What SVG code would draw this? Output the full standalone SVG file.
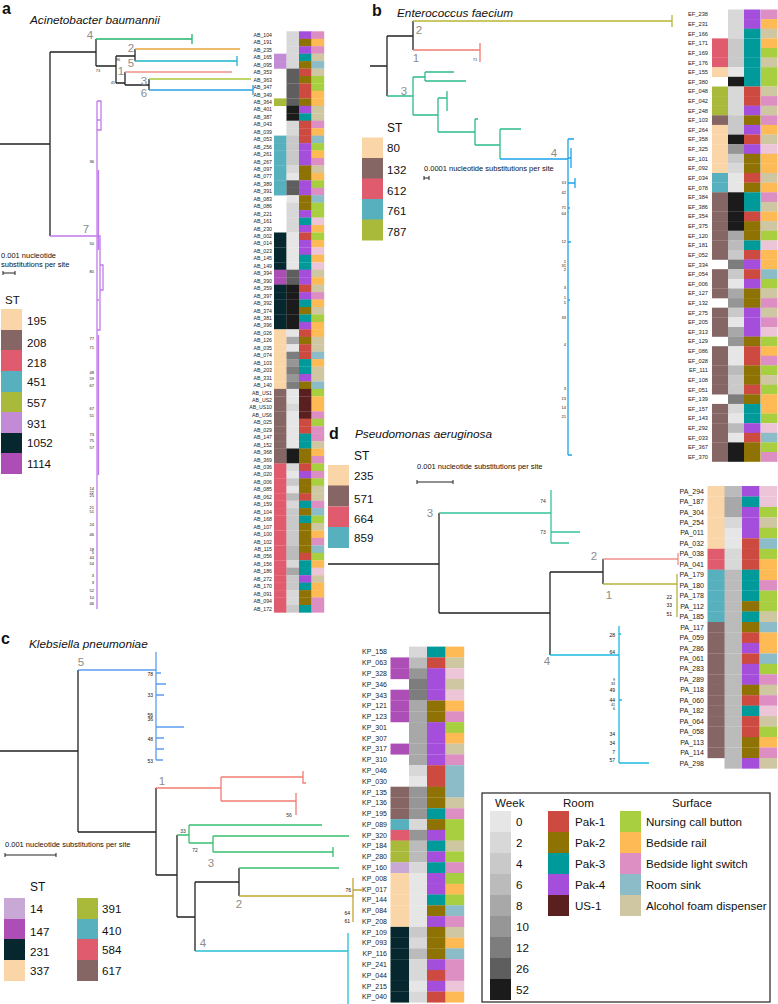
<svg xmlns="http://www.w3.org/2000/svg" width="778" height="1004" viewBox="0 0 778 1004">
<style>
text{font-family:"Liberation Sans",Arial,sans-serif;fill:#111}
.p{font-size:16px;font-weight:bold}
.t{font-size:11.8px;font-style:italic}
.cl{font-size:11.5px;fill:#8c8c8c;text-anchor:middle}
.bs{font-size:4px;fill:#333;text-anchor:end}
.bm{font-size:5px;fill:#333;text-anchor:middle}
.be{font-size:5px;fill:#333;text-anchor:end}
.sc{font-size:7.5px}
.lg{font-size:11.6px}
.la{font-size:5.2px;text-anchor:end;fill:#222}
.lb{font-size:5.7px;text-anchor:end;fill:#222}
.ld{font-size:7px;text-anchor:end;fill:#222}
.tr path{fill:none;stroke-width:1.3}
.k{stroke:#222}
.ha rect{width:12.7px;height:7.65px}
.hb rect{width:16.5px;height:9.8px}
.hd rect{width:17.7px;height:10.65px}
.hc rect{width:18.7px;height:10.95px}
.sw rect{width:21px;height:21px}
.pe{fill:#f9d5a7}.br{fill:#866565}.rd{fill:#e15b6e}.tl{fill:#57b0bd}.ol{fill:#a9b93a}.lv{fill:#c38bd6}.dk{fill:#05272d}.mg{fill:#ad4eb6}.lp{fill:#c8a9d5}
.w0{fill:#e6e6e6}.w2{fill:#d8d8d8}.w4{fill:#c9c9c9}.w6{fill:#bbbbbb}.w8{fill:#a8a8a8}.w10{fill:#969696}.w12{fill:#7d7d7d}.w26{fill:#5e5e5e}.w52{fill:#1b1b1b}
.r1{fill:#cd4a41}.r2{fill:#8e7304}.r3{fill:#009a9a}.r4{fill:#a64edc}.r5{fill:#5a1f1f}
.s1{fill:#a7cf40}.s2{fill:#fdba55}.s3{fill:#dd8ec3}.s4{fill:#8bbcc8}.s5{fill:#cfc6a2}.s6{fill:#ecc6d8}
</style>
<rect width="778" height="1004" fill="#fff"/>

<!-- ===== Panel a ===== -->
<g id="panel-a-title"><text class="p" x="2" y="14">a</text><text class="t" x="30" y="24">Acinetobacter baumannii</text></g>
<g id="connectors-a" class="tr">
<path class="k" stroke-width="1.5" d="M0,144 H50 M50,52 V236 M50,52 H96 M96,39 V66 M96,66 H116 M116,56 V83 M116,56 H135 M135,49 V61 M116,83 H125 M125,72 V85 M125,85 H149 M149,79 V90"/>
<path stroke="#25b46e" d="M96,39 H192 M192,34 V44"/>
<path stroke="#e6a53a" d="M135,49 H240"/>
<path stroke="#1fb5c9" d="M135,61 H237 M237,56 V66"/>
<path stroke="#f0908a" d="M125,72 H232"/>
<path stroke="#a8c93a" d="M149,79 H251"/>
<path stroke="#2aa0e2" d="M149,90 H253 M253,85 V95"/>
<path stroke="#c07bea" d="M50,236 H97 M97,101 V609 M97,101 H101 V130 H97 M98.5,170 V250 M97,236 H100 V330 H97 M100,265 H103 V290 H100 M98.5,335 V475 M97,120 H100 M97,300 H99"/>
</g>
<g id="clade-labels-a">
<text class="cl" x="90" y="39">4</text><text class="cl" x="131" y="52">2</text><text class="cl" x="131" y="67">5</text>
<text class="cl" x="121" y="75">1</text><text class="cl" x="144" y="85">3</text><text class="cl" x="144" y="97">6</text>
<text class="cl" x="86" y="233">7</text>
<text class="bm" x="118" y="61" style="font-size:4px">86</text><text class="bm" x="98" y="72" style="font-size:4px">73</text><text class="bm" x="113" y="84" style="font-size:4px">45</text>
</g>
<g id="bootstrap-a" class="bs">
<text x="94" y="163">36</text><text x="94" y="245">50</text><text x="94" y="273">80</text><text x="94" y="340">77</text><text x="94" y="349">71</text>
<text x="94" y="374">48</text><text x="94" y="380">59</text><text x="94" y="387">67</text><text x="94" y="410">67</text><text x="94" y="417">51</text>
<text x="94" y="436">73</text><text x="94" y="442">75</text><text x="94" y="449">57</text><text x="94" y="490">14</text><text x="94" y="493.5">22</text><text x="94" y="497">25</text>
<text x="94" y="509">21</text><text x="94" y="513">51</text><text x="94" y="526">24</text><text x="94" y="536">46</text><text x="94" y="551">18</text><text x="94" y="554">5</text>
<text x="94" y="559">44</text><text x="94" y="565">54</text><text x="94" y="577">3</text><text x="94" y="584">3</text><text x="94" y="592">52</text><text x="94" y="599">10</text><text x="94" y="605">46</text>
</g>
<g id="scale-a"><text class="sc" x="1" y="258">0.001 nucleotide</text><text class="sc" x="1" y="267">substitutions per site</text>
<path d="M3,273 H15 M3,271 V275 M15,271 V275" stroke="#222" stroke-width="1"/></g>
<g id="st-legend-a" class="sw">
<text x="5" y="304" style="font-size:11.5px">ST</text>
<rect x="1" y="309" class="pe"/><rect x="1" y="330" class="br"/><rect x="1" y="350" class="rd"/><rect x="1" y="371" class="tl"/><rect x="1" y="392" class="ol"/><rect x="1" y="412" class="lv"/><rect x="1" y="433" class="dk"/><rect x="1" y="453" class="mg"/>
<text class="lg" x="27" y="325">195</text><text class="lg" x="27" y="347">208</text><text class="lg" x="27" y="367">218</text><text class="lg" x="27" y="386">451</text><text class="lg" x="27" y="407">557</text><text class="lg" x="27" y="428">931</text><text class="lg" x="27" y="447">1052</text><text class="lg" x="27" y="468">1114</text>
</g>
<g id="labels-a"><text class="la" y="36.9"><tspan x="272">AB_104</tspan><tspan x="272" dy="7.45">AB_191</tspan><tspan x="272" dy="7.45">AB_235</tspan><tspan x="272" dy="7.45">AB_165</tspan><tspan x="272" dy="7.45">AB_095</tspan><tspan x="272" dy="7.45">AB_353</tspan><tspan x="272" dy="7.45">AB_363</tspan><tspan x="272" dy="7.45">AB_347</tspan><tspan x="272" dy="7.45">AB_349</tspan><tspan x="272" dy="7.45">AB_364</tspan><tspan x="272" dy="7.45">AB_401</tspan><tspan x="272" dy="7.45">AB_387</tspan><tspan x="272" dy="7.45">AB_043</tspan><tspan x="272" dy="7.45">AB_039</tspan><tspan x="272" dy="7.45">AB_053</tspan><tspan x="272" dy="7.45">AB_256</tspan><tspan x="272" dy="7.45">AB_261</tspan><tspan x="272" dy="7.45">AB_267</tspan><tspan x="272" dy="7.45">AB_097</tspan><tspan x="272" dy="7.45">AB_077</tspan><tspan x="272" dy="7.45">AB_389</tspan><tspan x="272" dy="7.45">AB_391</tspan><tspan x="272" dy="7.45">AB_083</tspan><tspan x="272" dy="7.45">AB_086</tspan><tspan x="272" dy="7.45">AB_221</tspan><tspan x="272" dy="7.45">AB_161</tspan><tspan x="272" dy="7.45">AB_230</tspan><tspan x="272" dy="7.45">AB_002</tspan><tspan x="272" dy="7.45">AB_014</tspan><tspan x="272" dy="7.45">AB_023</tspan><tspan x="272" dy="7.45">AB_145</tspan><tspan x="272" dy="7.45">AB_149</tspan><tspan x="272" dy="7.45">AB_394</tspan><tspan x="272" dy="7.45">AB_390</tspan><tspan x="272" dy="7.45">AB_359</tspan><tspan x="272" dy="7.45">AB_397</tspan><tspan x="272" dy="7.45">AB_392</tspan><tspan x="272" dy="7.45">AB_374</tspan><tspan x="272" dy="7.45">AB_381</tspan><tspan x="272" dy="7.45">AB_396</tspan><tspan x="272" dy="7.45">AB_026</tspan><tspan x="272" dy="7.45">AB_126</tspan><tspan x="272" dy="7.45">AB_035</tspan><tspan x="272" dy="7.45">AB_074</tspan><tspan x="272" dy="7.45">AB_103</tspan><tspan x="272" dy="7.45">AB_203</tspan><tspan x="272" dy="7.45">AB_331</tspan><tspan x="272" dy="7.45">AB_140</tspan><tspan x="272" dy="7.45">AB_US1</tspan><tspan x="272" dy="7.45">AB_US2</tspan><tspan x="272" dy="7.45">AB_US10</tspan><tspan x="272" dy="7.45">AB_US6</tspan><tspan x="272" dy="7.45">AB_025</tspan><tspan x="272" dy="7.45">AB_029</tspan><tspan x="272" dy="7.45">AB_147</tspan><tspan x="272" dy="7.45">AB_152</tspan><tspan x="272" dy="7.45">AB_368</tspan><tspan x="272" dy="7.45">AB_369</tspan><tspan x="272" dy="7.45">AB_036</tspan><tspan x="272" dy="7.45">AB_020</tspan><tspan x="272" dy="7.45">AB_006</tspan><tspan x="272" dy="7.45">AB_085</tspan><tspan x="272" dy="7.45">AB_062</tspan><tspan x="272" dy="7.45">AB_159</tspan><tspan x="272" dy="7.45">AB_104</tspan><tspan x="272" dy="7.45">AB_168</tspan><tspan x="272" dy="7.45">AB_107</tspan><tspan x="272" dy="7.45">AB_100</tspan><tspan x="272" dy="7.45">AB_102</tspan><tspan x="272" dy="7.45">AB_115</tspan><tspan x="272" dy="7.45">AB_056</tspan><tspan x="272" dy="7.45">AB_156</tspan><tspan x="272" dy="7.45">AB_186</tspan><tspan x="272" dy="7.45">AB_272</tspan><tspan x="272" dy="7.45">AB_170</tspan><tspan x="272" dy="7.45">AB_091</tspan><tspan x="272" dy="7.45">AB_094</tspan><tspan x="272" dy="7.45">AB_172</tspan></text></g>
<g id="heatmap-a" class="ha">
<g transform="translate(0,31.3)"><rect x="286.5" class="w2"/><rect x="299" class="r4"/><rect x="311.5" class="s3"/></g>
<g transform="translate(0,38.8)"><rect x="286.5" class="w2"/><rect x="299" class="r2"/><rect x="311.5" class="s2"/></g>
<g transform="translate(0,46.2)"><rect x="286.5" class="w2"/><rect x="299" class="r4"/><rect x="311.5" class="s3"/></g>
<g transform="translate(0,53.7)"><rect x="274" class="lv"/><rect x="286.5" class="w2"/><rect x="299" class="r3"/><rect x="311.5" class="s5"/></g>
<g transform="translate(0,61.1)"><rect x="274" class="lv"/><rect x="286.5" class="w2"/><rect x="299" class="r2"/><rect x="311.5" class="s4"/></g>
<g transform="translate(0,68.6)"><rect x="286.5" class="w26"/><rect x="299" class="r1"/><rect x="311.5" class="s5"/></g>
<g transform="translate(0,76.0)"><rect x="286.5" class="w26"/><rect x="299" class="r2"/><rect x="311.5" class="s1"/></g>
<g transform="translate(0,83.5)"><rect x="286.5" class="w26"/><rect x="299" class="r1"/><rect x="311.5" class="s1"/></g>
<g transform="translate(0,90.9)"><rect x="286.5" class="w26"/><rect x="299" class="r1"/><rect x="311.5" class="s2"/></g>
<g transform="translate(0,98.4)"><rect x="274" class="ol"/><rect x="286.5" class="w26"/><rect x="299" class="r2"/><rect x="311.5" class="s2"/></g>
<g transform="translate(0,105.8)"><rect x="286.5" class="w52"/><rect x="299" class="r4"/><rect x="311.5" class="s5"/></g>
<g transform="translate(0,113.3)"><rect x="286.5" class="w52"/><rect x="299" class="r3"/><rect x="311.5" class="s5"/></g>
<g transform="translate(0,120.7)"><rect x="286.5" class="w2"/><rect x="299" class="r1"/><rect x="311.5" class="s3"/></g>
<g transform="translate(0,128.2)"><rect x="286.5" class="w2"/><rect x="299" class="r1"/><rect x="311.5" class="s2"/></g>
<g transform="translate(0,135.6)"><rect x="274" class="tl"/><rect x="286.5" class="w4"/><rect x="299" class="r1"/><rect x="311.5" class="s4"/></g>
<g transform="translate(0,143.1)"><rect x="274" class="tl"/><rect x="286.5" class="w4"/><rect x="299" class="r4"/><rect x="311.5" class="s1"/></g>
<g transform="translate(0,150.5)"><rect x="274" class="tl"/><rect x="286.5" class="w4"/><rect x="299" class="r4"/><rect x="311.5" class="s2"/></g>
<g transform="translate(0,158.0)"><rect x="274" class="tl"/><rect x="286.5" class="w4"/><rect x="299" class="r4"/><rect x="311.5" class="s3"/></g>
<g transform="translate(0,165.4)"><rect x="274" class="tl"/><rect x="286.5" class="w2"/><rect x="299" class="r2"/><rect x="311.5" class="s5"/></g>
<g transform="translate(0,172.9)"><rect x="274" class="tl"/><rect x="286.5" class="w0"/><rect x="299" class="r2"/><rect x="311.5" class="s2"/></g>
<g transform="translate(0,180.3)"><rect x="274" class="tl"/><rect x="286.5" class="w26"/><rect x="299" class="r4"/><rect x="311.5" class="s1"/></g>
<g transform="translate(0,187.8)"><rect x="274" class="tl"/><rect x="286.5" class="w26"/><rect x="299" class="r4"/><rect x="311.5" class="s3"/></g>
<g transform="translate(0,195.2)"><rect x="286.5" class="w0"/><rect x="299" class="r2"/><rect x="311.5" class="s4"/></g>
<g transform="translate(0,202.7)"><rect x="286.5" class="w2"/><rect x="299" class="r2"/><rect x="311.5" class="s1"/></g>
<g transform="translate(0,210.1)"><rect x="286.5" class="w2"/><rect x="299" class="r4"/><rect x="311.5" class="s1"/></g>
<g transform="translate(0,217.6)"><rect x="286.5" class="w2"/><rect x="299" class="r3"/><rect x="311.5" class="s6"/></g>
<g transform="translate(0,225.0)"><rect x="286.5" class="w2"/><rect x="299" class="r4"/><rect x="311.5" class="s2"/></g>
<g transform="translate(0,232.5)"><rect x="274" class="dk"/><rect x="286.5" class="w0"/><rect x="299" class="r1"/><rect x="311.5" class="s1"/></g>
<g transform="translate(0,239.9)"><rect x="274" class="dk"/><rect x="286.5" class="w0"/><rect x="299" class="r4"/><rect x="311.5" class="s2"/></g>
<g transform="translate(0,247.4)"><rect x="274" class="dk"/><rect x="286.5" class="w0"/><rect x="299" class="r4"/><rect x="311.5" class="s6"/></g>
<g transform="translate(0,254.8)"><rect x="274" class="dk"/><rect x="286.5" class="w0"/><rect x="299" class="r3"/><rect x="311.5" class="s2"/></g>
<g transform="translate(0,262.3)"><rect x="274" class="dk"/><rect x="286.5" class="w0"/><rect x="299" class="r3"/><rect x="311.5" class="s6"/></g>
<g transform="translate(0,269.7)"><rect x="274" class="mg"/><rect x="286.5" class="w26"/><rect x="299" class="r4"/><rect x="311.5" class="s5"/></g>
<g transform="translate(0,277.2)"><rect x="274" class="mg"/><rect x="286.5" class="w26"/><rect x="299" class="r4"/><rect x="311.5" class="s2"/></g>
<g transform="translate(0,284.6)"><rect x="274" class="dk"/><rect x="286.5" class="w52"/><rect x="299" class="r1"/><rect x="311.5" class="s5"/></g>
<g transform="translate(0,292.1)"><rect x="274" class="dk"/><rect x="286.5" class="w52"/><rect x="299" class="r4"/><rect x="311.5" class="s3"/></g>
<g transform="translate(0,299.5)"><rect x="274" class="dk"/><rect x="286.5" class="w52"/><rect x="299" class="r3"/><rect x="311.5" class="s2"/></g>
<g transform="translate(0,307.0)"><rect x="274" class="dk"/><rect x="286.5" class="w52"/><rect x="299" class="r2"/><rect x="311.5" class="s5"/></g>
<g transform="translate(0,314.4)"><rect x="274" class="dk"/><rect x="286.5" class="w52"/><rect x="299" class="r3"/><rect x="311.5" class="s1"/></g>
<g transform="translate(0,321.9)"><rect x="274" class="dk"/><rect x="286.5" class="w52"/><rect x="299" class="r4"/><rect x="311.5" class="s2"/></g>
<g transform="translate(0,329.3)"><rect x="274" class="pe"/><rect x="286.5" class="w0"/><rect x="299" class="r1"/><rect x="311.5" class="s2"/></g>
<g transform="translate(0,336.8)"><rect x="274" class="pe"/><rect x="286.5" class="w8"/><rect x="299" class="r2"/><rect x="311.5" class="s5"/></g>
<g transform="translate(0,344.2)"><rect x="274" class="pe"/><rect x="286.5" class="w0"/><rect x="299" class="r1"/><rect x="311.5" class="s5"/></g>
<g transform="translate(0,351.7)"><rect x="274" class="pe"/><rect x="286.5" class="w12"/><rect x="299" class="r1"/><rect x="311.5" class="s4"/></g>
<g transform="translate(0,359.1)"><rect x="274" class="pe"/><rect x="286.5" class="w10"/><rect x="299" class="r3"/><rect x="311.5" class="s2"/></g>
<g transform="translate(0,366.6)"><rect x="274" class="pe"/><rect x="286.5" class="w12"/><rect x="299" class="r3"/><rect x="311.5" class="s5"/></g>
<g transform="translate(0,374.0)"><rect x="274" class="pe"/><rect x="286.5" class="w10"/><rect x="299" class="r4"/><rect x="311.5" class="s5"/></g>
<g transform="translate(0,381.5)"><rect x="274" class="pe"/><rect x="286.5" class="w12"/><rect x="299" class="r2"/><rect x="311.5" class="s4"/></g>
<g transform="translate(0,388.9)"><rect x="274" class="br"/><rect x="286.5" class="w0"/><rect x="299" class="r5"/><rect x="311.5" class="s1"/></g>
<g transform="translate(0,396.4)"><rect x="274" class="br"/><rect x="286.5" class="w0"/><rect x="299" class="r5"/><rect x="311.5" class="s2"/></g>
<g transform="translate(0,403.8)"><rect x="274" class="br"/><rect x="286.5" class="w2"/><rect x="299" class="r5"/><rect x="311.5" class="s2"/></g>
<g transform="translate(0,411.3)"><rect x="274" class="br"/><rect x="286.5" class="w0"/><rect x="299" class="r5"/><rect x="311.5" class="s3"/></g>
<g transform="translate(0,418.7)"><rect x="274" class="br"/><rect x="286.5" class="w0"/><rect x="299" class="r1"/><rect x="311.5" class="s1"/></g>
<g transform="translate(0,426.2)"><rect x="274" class="br"/><rect x="286.5" class="w0"/><rect x="299" class="r1"/><rect x="311.5" class="s3"/></g>
<g transform="translate(0,433.6)"><rect x="274" class="br"/><rect x="286.5" class="w0"/><rect x="299" class="r3"/><rect x="311.5" class="s3"/></g>
<g transform="translate(0,441.1)"><rect x="274" class="br"/><rect x="286.5" class="w0"/><rect x="299" class="r3"/><rect x="311.5" class="s5"/></g>
<g transform="translate(0,448.5)"><rect x="274" class="br"/><rect x="286.5" class="w52"/><rect x="299" class="r2"/><rect x="311.5" class="s2"/></g>
<g transform="translate(0,456.0)"><rect x="274" class="br"/><rect x="286.5" class="w52"/><rect x="299" class="r2"/><rect x="311.5" class="s3"/></g>
<g transform="translate(0,463.4)"><rect x="274" class="rd"/><rect x="286.5" class="w2"/><rect x="299" class="r1"/><rect x="311.5" class="s1"/></g>
<g transform="translate(0,470.9)"><rect x="274" class="rd"/><rect x="286.5" class="w0"/><rect x="299" class="r4"/><rect x="311.5" class="s3"/></g>
<g transform="translate(0,478.3)"><rect x="274" class="rd"/><rect x="286.5" class="w4"/><rect x="299" class="r2"/><rect x="311.5" class="s1"/></g>
<g transform="translate(0,485.8)"><rect x="274" class="rd"/><rect x="286.5" class="w0"/><rect x="299" class="r2"/><rect x="311.5" class="s5"/></g>
<g transform="translate(0,493.2)"><rect x="274" class="rd"/><rect x="286.5" class="w6"/><rect x="299" class="r1"/><rect x="311.5" class="s5"/></g>
<g transform="translate(0,500.7)"><rect x="274" class="rd"/><rect x="286.5" class="w2"/><rect x="299" class="r3"/><rect x="311.5" class="s3"/></g>
<g transform="translate(0,508.1)"><rect x="274" class="rd"/><rect x="286.5" class="w4"/><rect x="299" class="r2"/><rect x="311.5" class="s4"/></g>
<g transform="translate(0,515.6)"><rect x="274" class="rd"/><rect x="286.5" class="w4"/><rect x="299" class="r3"/><rect x="311.5" class="s1"/></g>
<g transform="translate(0,523.0)"><rect x="274" class="rd"/><rect x="286.5" class="w4"/><rect x="299" class="r2"/><rect x="311.5" class="s5"/></g>
<g transform="translate(0,530.5)"><rect x="274" class="rd"/><rect x="286.5" class="w4"/><rect x="299" class="r2"/><rect x="311.5" class="s2"/></g>
<g transform="translate(0,537.9)"><rect x="274" class="rd"/><rect x="286.5" class="w4"/><rect x="299" class="r2"/><rect x="311.5" class="s3"/></g>
<g transform="translate(0,545.4)"><rect x="274" class="rd"/><rect x="286.5" class="w6"/><rect x="299" class="r2"/><rect x="311.5" class="s4"/></g>
<g transform="translate(0,552.8)"><rect x="274" class="rd"/><rect x="286.5" class="w6"/><rect x="299" class="r1"/><rect x="311.5" class="s1"/></g>
<g transform="translate(0,560.3)"><rect x="274" class="rd"/><rect x="286.5" class="w2"/><rect x="299" class="r3"/><rect x="311.5" class="s2"/></g>
<g transform="translate(0,567.7)"><rect x="274" class="rd"/><rect x="286.5" class="w8"/><rect x="299" class="r3"/><rect x="311.5" class="s6"/></g>
<g transform="translate(0,575.2)"><rect x="274" class="rd"/><rect x="286.5" class="w4"/><rect x="299" class="r4"/><rect x="311.5" class="s5"/></g>
<g transform="translate(0,582.6)"><rect x="274" class="rd"/><rect x="286.5" class="w4"/><rect x="299" class="r3"/><rect x="311.5" class="s2"/></g>
<g transform="translate(0,590.1)"><rect x="274" class="rd"/><rect x="286.5" class="w2"/><rect x="299" class="r2"/><rect x="311.5" class="s2"/></g>
<g transform="translate(0,597.5)"><rect x="274" class="rd"/><rect x="286.5" class="w2"/><rect x="299" class="r2"/><rect x="311.5" class="s3"/></g>
<g transform="translate(0,605.0)"><rect x="274" class="rd"/><rect x="286.5" class="w4"/><rect x="299" class="r3"/><rect x="311.5" class="s3"/></g>
</g>

<!-- ===== Panel b ===== -->
<g id="panel-b-title"><text class="p" x="372" y="16">b</text><text class="t" x="397" y="17">Enterococcus faecium</text></g>
<g id="connectors-b" class="tr">
<path class="k" d="M370,66 H387 M387,36 V96 M387,36 H413 M413,21 V50"/>
<path stroke="#b9b536" d="M413,21 H672 M672,15 V27"/>
<path stroke="#f27c72" d="M413,50 H480 M480,43 V62"/>
<path stroke="#2dbb8a" d="M387,96 H413 M413,77 V115 M413,77 H425 M425,72 V81 M425,72 H454 M425,81 H466 M413,115 H438 M438,98 V132 M438,98 H447 M447,91 V111 M438,132 H475 M475,119 V145 M475,119 H478 M475,145 H500 M500,129 V159 M500,129 H521"/>
<path stroke="#1ca2ea" d="M500,159 H568 M568,139 V455 M568,139 H574 M571,148 V168 M568,158 H571 M568,183 H575 M575,178 V188 M568,208 H570 M568,242 H571 M568,300 H570 M568,455 H572"/>
</g>
<g id="clade-labels-b">
<text class="cl" x="419" y="34">2</text><text class="cl" x="416" y="62">1</text><text class="cl" x="404" y="95">3</text><text class="cl" x="554" y="157">4</text>
<text class="bm" x="475" y="61" style="font-size:4px">71</text><text class="bm" x="564" y="184" style="font-size:4px">63</text>
</g>
<g id="bootstrap-b" class="bs">
<text x="566" y="194">42</text><text x="566" y="209">71</text><text x="566" y="215">64</text><text x="566" y="243">12</text><text x="566" y="263">1</text><text x="566" y="267">31</text><text x="566" y="271">2</text>
<text x="566" y="289">3</text><text x="566" y="299">1</text><text x="566" y="304">5</text><text x="566" y="319">33</text><text x="566" y="346">4</text><text x="566" y="390">3</text><text x="566" y="400">13</text><text x="566" y="409">14</text><text x="566" y="418">21</text>
</g>
<g id="scale-b"><text class="sc" x="424" y="170.5">0.0001 nucleotide substitutions per site</text>
<path d="M424,178 H429 M424,176 V180 M429,176 V180" stroke="#222" stroke-width="1"/></g>
<g id="st-legend-b" class="sw">
<text x="387" y="132" style="font-size:12px">ST</text>
<rect x="362" y="137.5" class="pe"/><rect x="362" y="158" class="br"/><rect x="362" y="178.5" class="rd"/><rect x="362" y="199" class="tl"/><rect x="362" y="219.5" class="ol"/>
<text class="lg" x="387" y="152">80</text><text class="lg" x="387" y="174">132</text><text class="lg" x="387" y="195">612</text><text class="lg" x="387" y="215">761</text><text class="lg" x="387" y="236">787</text>
</g>
<g id="labels-b"><text class="lb" y="16.4"><tspan x="708">EF_238</tspan><tspan x="708" dy="9.62">EF_231</tspan><tspan x="708" dy="9.62">EF_166</tspan><tspan x="708" dy="9.62">EF_171</tspan><tspan x="708" dy="9.62">EF_169</tspan><tspan x="708" dy="9.62">EF_176</tspan><tspan x="708" dy="9.62">EF_155</tspan><tspan x="708" dy="9.62">EF_380</tspan><tspan x="708" dy="9.62">EF_048</tspan><tspan x="708" dy="9.62">EF_042</tspan><tspan x="708" dy="9.62">EF_248</tspan><tspan x="708" dy="9.62">EF_103</tspan><tspan x="708" dy="9.62">EF_264</tspan><tspan x="708" dy="9.62">EF_358</tspan><tspan x="708" dy="9.62">EF_325</tspan><tspan x="708" dy="9.62">EF_101</tspan><tspan x="708" dy="9.62">EF_092</tspan><tspan x="708" dy="9.62">EF_034</tspan><tspan x="708" dy="9.62">EF_078</tspan><tspan x="708" dy="9.62">EF_384</tspan><tspan x="708" dy="9.62">EF_386</tspan><tspan x="708" dy="9.62">EF_354</tspan><tspan x="708" dy="9.62">EF_375</tspan><tspan x="708" dy="9.62">EF_120</tspan><tspan x="708" dy="9.62">EF_181</tspan><tspan x="708" dy="9.62">EF_052</tspan><tspan x="708" dy="9.62">EF_334</tspan><tspan x="708" dy="9.62">EF_054</tspan><tspan x="708" dy="9.62">EF_006</tspan><tspan x="708" dy="9.62">EF_127</tspan><tspan x="708" dy="9.62">EF_132</tspan><tspan x="708" dy="9.62">EF_275</tspan><tspan x="708" dy="9.62">EF_205</tspan><tspan x="708" dy="9.62">EF_313</tspan><tspan x="708" dy="9.62">EF_129</tspan><tspan x="708" dy="9.62">EF_086</tspan><tspan x="708" dy="9.62">EF_028</tspan><tspan x="708" dy="9.62">EF_111</tspan><tspan x="708" dy="9.62">EF_108</tspan><tspan x="708" dy="9.62">EF_051</tspan><tspan x="708" dy="9.62">EF_139</tspan><tspan x="708" dy="9.62">EF_157</tspan><tspan x="708" dy="9.62">EF_143</tspan><tspan x="708" dy="9.62">EF_292</tspan><tspan x="708" dy="9.62">EF_033</tspan><tspan x="708" dy="9.62">EF_367</tspan><tspan x="708" dy="9.62">EF_370</tspan></text></g>
<g id="heatmap-b" class="hb">
<g transform="translate(0,9.5)"><rect x="728" class="w2"/><rect x="744" class="r4"/><rect x="761" class="s3"/></g>
<g transform="translate(0,19.1)"><rect x="728" class="w2"/><rect x="744" class="r4"/><rect x="761" class="s2"/></g>
<g transform="translate(0,28.7)"><rect x="728" class="w2"/><rect x="744" class="r3"/><rect x="761" class="s5"/></g>
<g transform="translate(0,38.4)"><rect x="712" class="rd"/><rect x="728" class="w4"/><rect x="744" class="r3"/><rect x="761" class="s2"/></g>
<g transform="translate(0,48.0)"><rect x="712" class="rd"/><rect x="728" class="w4"/><rect x="744" class="r3"/><rect x="761" class="s1"/></g>
<g transform="translate(0,57.6)"><rect x="712" class="rd"/><rect x="728" class="w4"/><rect x="744" class="r3"/><rect x="761" class="s5"/></g>
<g transform="translate(0,67.2)"><rect x="712" class="pe"/><rect x="728" class="w0"/><rect x="744" class="r3"/><rect x="761" class="s1"/></g>
<g transform="translate(0,76.8)"><rect x="728" class="w52"/><rect x="744" class="r3"/><rect x="761" class="s1"/></g>
<g transform="translate(0,86.5)"><rect x="712" class="ol"/><rect x="728" class="w2"/><rect x="744" class="r1"/><rect x="761" class="s5"/></g>
<g transform="translate(0,96.1)"><rect x="712" class="ol"/><rect x="728" class="w2"/><rect x="744" class="r1"/><rect x="761" class="s3"/></g>
<g transform="translate(0,105.7)"><rect x="712" class="ol"/><rect x="728" class="w2"/><rect x="744" class="r4"/><rect x="761" class="s5"/></g>
<g transform="translate(0,115.3)"><rect x="712" class="br"/><rect x="728" class="w4"/><rect x="744" class="r2"/><rect x="761" class="s3"/></g>
<g transform="translate(0,124.9)"><rect x="712" class="pe"/><rect x="728" class="w4"/><rect x="744" class="r4"/><rect x="761" class="s2"/></g>
<g transform="translate(0,134.6)"><rect x="712" class="pe"/><rect x="728" class="w52"/><rect x="744" class="r1"/><rect x="761" class="s5"/></g>
<g transform="translate(0,144.2)"><rect x="712" class="pe"/><rect x="728" class="w10"/><rect x="744" class="r4"/><rect x="761" class="s6"/></g>
<g transform="translate(0,153.8)"><rect x="712" class="pe"/><rect x="728" class="w4"/><rect x="744" class="r2"/><rect x="761" class="s2"/></g>
<g transform="translate(0,163.4)"><rect x="712" class="pe"/><rect x="728" class="w2"/><rect x="744" class="r2"/><rect x="761" class="s2"/></g>
<g transform="translate(0,173.0)"><rect x="712" class="tl"/><rect x="728" class="w0"/><rect x="744" class="r1"/><rect x="761" class="s5"/></g>
<g transform="translate(0,182.7)"><rect x="712" class="tl"/><rect x="728" class="w0"/><rect x="744" class="r2"/><rect x="761" class="s2"/></g>
<g transform="translate(0,192.3)"><rect x="712" class="br"/><rect x="728" class="w52"/><rect x="744" class="r3"/><rect x="761" class="s3"/></g>
<g transform="translate(0,201.9)"><rect x="712" class="br"/><rect x="728" class="w52"/><rect x="744" class="r3"/><rect x="761" class="s5"/></g>
<g transform="translate(0,211.5)"><rect x="712" class="br"/><rect x="728" class="w52"/><rect x="744" class="r1"/><rect x="761" class="s2"/></g>
<g transform="translate(0,221.1)"><rect x="712" class="br"/><rect x="728" class="w52"/><rect x="744" class="r2"/><rect x="761" class="s5"/></g>
<g transform="translate(0,230.8)"><rect x="712" class="br"/><rect x="728" class="w8"/><rect x="744" class="r2"/><rect x="761" class="s1"/></g>
<g transform="translate(0,240.4)"><rect x="712" class="br"/><rect x="728" class="w6"/><rect x="744" class="r3"/><rect x="761" class="s6"/></g>
<g transform="translate(0,250.0)"><rect x="712" class="br"/><rect x="728" class="w4"/><rect x="744" class="r1"/><rect x="761" class="s2"/></g>
<g transform="translate(0,259.6)"><rect x="728" class="w12"/><rect x="744" class="r4"/><rect x="761" class="s2"/></g>
<g transform="translate(0,269.2)"><rect x="712" class="br"/><rect x="728" class="w4"/><rect x="744" class="r1"/><rect x="761" class="s4"/></g>
<g transform="translate(0,278.9)"><rect x="712" class="br"/><rect x="728" class="w0"/><rect x="744" class="r4"/><rect x="761" class="s1"/></g>
<g transform="translate(0,288.5)"><rect x="712" class="br"/><rect x="728" class="w8"/><rect x="744" class="r2"/><rect x="761" class="s5"/></g>
<g transform="translate(0,298.1)"><rect x="728" class="w10"/><rect x="744" class="r2"/><rect x="761" class="s3"/></g>
<g transform="translate(0,307.7)"><rect x="712" class="br"/><rect x="728" class="w4"/><rect x="744" class="r4"/><rect x="761" class="s5"/></g>
<g transform="translate(0,317.3)"><rect x="712" class="br"/><rect x="728" class="w0"/><rect x="744" class="r4"/><rect x="761" class="s3"/></g>
<g transform="translate(0,327.0)"><rect x="712" class="br"/><rect x="728" class="w8"/><rect x="744" class="r4"/><rect x="761" class="s6"/></g>
<g transform="translate(0,336.6)"><rect x="728" class="w10"/><rect x="744" class="r2"/><rect x="761" class="s1"/></g>
<g transform="translate(0,346.2)"><rect x="712" class="br"/><rect x="728" class="w0"/><rect x="744" class="r1"/><rect x="761" class="s2"/></g>
<g transform="translate(0,355.8)"><rect x="712" class="br"/><rect x="728" class="w0"/><rect x="744" class="r1"/><rect x="761" class="s3"/></g>
<g transform="translate(0,365.4)"><rect x="712" class="br"/><rect x="728" class="w6"/><rect x="744" class="r2"/><rect x="761" class="s1"/></g>
<g transform="translate(0,375.1)"><rect x="712" class="br"/><rect x="728" class="w4"/><rect x="744" class="r2"/><rect x="761" class="s5"/></g>
<g transform="translate(0,384.7)"><rect x="712" class="br"/><rect x="728" class="w4"/><rect x="744" class="r1"/><rect x="761" class="s1"/></g>
<g transform="translate(0,394.3)"><rect x="728" class="w12"/><rect x="744" class="r2"/><rect x="761" class="s2"/></g>
<g transform="translate(0,403.9)"><rect x="712" class="br"/><rect x="728" class="w2"/><rect x="744" class="r3"/><rect x="761" class="s2"/></g>
<g transform="translate(0,413.5)"><rect x="712" class="br"/><rect x="728" class="w0"/><rect x="744" class="r3"/><rect x="761" class="s1"/></g>
<g transform="translate(0,423.2)"><rect x="712" class="br"/><rect x="728" class="w6"/><rect x="744" class="r4"/><rect x="761" class="s6"/></g>
<g transform="translate(0,432.8)"><rect x="712" class="br"/><rect x="728" class="w0"/><rect x="744" class="r1"/><rect x="761" class="s4"/></g>
<g transform="translate(0,442.4)"><rect x="712" class="br"/><rect x="728" class="w52"/><rect x="744" class="r2"/><rect x="761" class="s1"/></g>
<g transform="translate(0,452.0)"><rect x="712" class="br"/><rect x="728" class="w52"/><rect x="744" class="r2"/><rect x="761" class="s3"/></g>
</g>

<!-- ===== Panel d ===== -->
<g id="panel-d-title"><text class="p" x="329" y="439">d</text><text class="t" x="355" y="438">Pseudomonas aeruginosa</text></g>
<g id="st-legend-d" class="sw">
<text x="354" y="460" style="font-size:12px">ST</text>
<rect x="328" y="465" class="pe"/><rect x="328" y="485.5" class="br"/><rect x="328" y="506.5" class="rd"/><rect x="328" y="527" class="tl"/>
<text class="lg" x="354" y="480">235</text><text class="lg" x="354" y="503">571</text><text class="lg" x="354" y="523">664</text><text class="lg" x="354" y="542">859</text>
</g>
<g id="scale-d"><text class="sc" x="417" y="468.5">0.001 nucleotide substitutions per site</text>
<path d="M417,482 H453 M417,480 V484 M453,480 V484" stroke="#222" stroke-width="1"/></g>
<g id="connectors-d" class="tr">
<path class="k" d="M328,564 H439 M439,513 V613 M439,613 H550 M550,572 V655 M550,572 H603 M603,559 V584"/>
<path stroke="#36c39a" d="M439,513 H551 M551,490 V543 M551,532 H580 M551,543 H569"/>
<path stroke="#f0908a" d="M603,559 H678 M678,553 V565"/>
<path stroke="#b7b23d" d="M603,584 H677 M677,574 V617"/>
<path stroke="#1bbbe2" d="M550,655 H619 M619,626 V763 M619,763 H649 M619,700 H622 M619,634 H621"/>
</g>
<g id="clade-labels-d">
<text class="cl" x="430" y="517">3</text><text class="cl" x="594" y="560">2</text><text class="cl" x="609" y="599">1</text><text class="cl" x="547" y="665">4</text>
<text class="bm" x="543" y="503">74</text><text class="bm" x="543" y="534">73</text>
</g>
<g id="bootstrap-d" class="be">
<text x="672" y="599">22</text><text x="672" y="607">33</text><text x="672" y="616">51</text>
<text x="615" y="637">28</text><text x="615" y="654">64</text>
<text x="615" y="681" style="font-size:3.6px">9</text><text x="615" y="684.5" style="font-size:3.6px">33</text><text x="615" y="691.5">49</text>
<text x="615" y="702">44</text><text x="615" y="706" style="font-size:3.6px">41</text><text x="615" y="709.5" style="font-size:3.6px">6</text>
<text x="615" y="736">34</text><text x="615" y="745">34</text><text x="615" y="754">7</text><text x="615" y="762">57</text>
</g>
<g id="labels-d"><text class="ld" y="493.6"><tspan x="704">PA_294</tspan><tspan x="704" dy="10.46">PA_187</tspan><tspan x="704" dy="10.46">PA_304</tspan><tspan x="704" dy="10.46">PA_254</tspan><tspan x="704" dy="10.46">PA_011</tspan><tspan x="704" dy="10.46">PA_032</tspan><tspan x="704" dy="10.46">PA_038</tspan><tspan x="704" dy="10.46">PA_041</tspan><tspan x="704" dy="10.46">PA_179</tspan><tspan x="704" dy="10.46">PA_180</tspan><tspan x="704" dy="10.46">PA_178</tspan><tspan x="704" dy="10.46">PA_112</tspan><tspan x="704" dy="10.46">PA_185</tspan><tspan x="704" dy="10.46">PA_117</tspan><tspan x="704" dy="10.46">PA_059</tspan><tspan x="704" dy="10.46">PA_286</tspan><tspan x="704" dy="10.46">PA_061</tspan><tspan x="704" dy="10.46">PA_283</tspan><tspan x="704" dy="10.46">PA_289</tspan><tspan x="704" dy="10.46">PA_118</tspan><tspan x="704" dy="10.46">PA_060</tspan><tspan x="704" dy="10.46">PA_182</tspan><tspan x="704" dy="10.46">PA_064</tspan><tspan x="704" dy="10.46">PA_058</tspan><tspan x="704" dy="10.46">PA_113</tspan><tspan x="704" dy="10.46">PA_114</tspan><tspan x="704" dy="10.46">PA_298</tspan></text></g>
<g id="heatmap-d" class="hd">
<g transform="translate(0,486.0)"><rect x="707.5" class="pe"/><rect x="724.5" class="w6"/><rect x="742" class="r4"/><rect x="759.5" class="s6"/></g>
<g transform="translate(0,496.5)"><rect x="707.5" class="pe"/><rect x="724.5" class="w8"/><rect x="742" class="r3"/><rect x="759.5" class="s6"/></g>
<g transform="translate(0,506.9)"><rect x="707.5" class="pe"/><rect x="724.5" class="w8"/><rect x="742" class="r4"/><rect x="759.5" class="s1"/></g>
<g transform="translate(0,517.4)"><rect x="707.5" class="pe"/><rect x="724.5" class="w2"/><rect x="742" class="r4"/><rect x="759.5" class="s5"/></g>
<g transform="translate(0,527.8)"><rect x="707.5" class="pe"/><rect x="724.5" class="w0"/><rect x="742" class="r4"/><rect x="759.5" class="s1"/></g>
<g transform="translate(0,538.3)"><rect x="707.5" class="pe"/><rect x="724.5" class="w0"/><rect x="742" class="r1"/><rect x="759.5" class="s4"/></g>
<g transform="translate(0,548.8)"><rect x="707.5" class="rd"/><rect x="724.5" class="w2"/><rect x="742" class="r1"/><rect x="759.5" class="s1"/></g>
<g transform="translate(0,559.2)"><rect x="707.5" class="rd"/><rect x="724.5" class="w2"/><rect x="742" class="r1"/><rect x="759.5" class="s2"/></g>
<g transform="translate(0,569.7)"><rect x="707.5" class="tl"/><rect x="724.5" class="w6"/><rect x="742" class="r3"/><rect x="759.5" class="s2"/></g>
<g transform="translate(0,580.1)"><rect x="707.5" class="tl"/><rect x="724.5" class="w6"/><rect x="742" class="r3"/><rect x="759.5" class="s3"/></g>
<g transform="translate(0,590.6)"><rect x="707.5" class="tl"/><rect x="724.5" class="w6"/><rect x="742" class="r3"/><rect x="759.5" class="s1"/></g>
<g transform="translate(0,601.1)"><rect x="707.5" class="tl"/><rect x="724.5" class="w6"/><rect x="742" class="r2"/><rect x="759.5" class="s1"/></g>
<g transform="translate(0,611.5)"><rect x="707.5" class="tl"/><rect x="724.5" class="w6"/><rect x="742" class="r3"/><rect x="759.5" class="s5"/></g>
<g transform="translate(0,622.0)"><rect x="707.5" class="br"/><rect x="724.5" class="w6"/><rect x="742" class="r2"/><rect x="759.5" class="s4"/></g>
<g transform="translate(0,632.4)"><rect x="707.5" class="br"/><rect x="724.5" class="w6"/><rect x="742" class="r1"/><rect x="759.5" class="s2"/></g>
<g transform="translate(0,642.9)"><rect x="707.5" class="br"/><rect x="724.5" class="w6"/><rect x="742" class="r4"/><rect x="759.5" class="s2"/></g>
<g transform="translate(0,653.4)"><rect x="707.5" class="br"/><rect x="724.5" class="w6"/><rect x="742" class="r1"/><rect x="759.5" class="s4"/></g>
<g transform="translate(0,663.8)"><rect x="707.5" class="br"/><rect x="724.5" class="w6"/><rect x="742" class="r4"/><rect x="759.5" class="s1"/></g>
<g transform="translate(0,674.3)"><rect x="707.5" class="br"/><rect x="724.5" class="w6"/><rect x="742" class="r4"/><rect x="759.5" class="s3"/></g>
<g transform="translate(0,684.7)"><rect x="707.5" class="br"/><rect x="724.5" class="w6"/><rect x="742" class="r2"/><rect x="759.5" class="s5"/></g>
<g transform="translate(0,695.2)"><rect x="707.5" class="br"/><rect x="724.5" class="w6"/><rect x="742" class="r1"/><rect x="759.5" class="s3"/></g>
<g transform="translate(0,705.7)"><rect x="707.5" class="br"/><rect x="724.5" class="w6"/><rect x="742" class="r3"/><rect x="759.5" class="s6"/></g>
<g transform="translate(0,716.1)"><rect x="707.5" class="br"/><rect x="724.5" class="w6"/><rect x="742" class="r1"/><rect x="759.5" class="s5"/></g>
<g transform="translate(0,726.6)"><rect x="707.5" class="br"/><rect x="724.5" class="w6"/><rect x="742" class="r1"/><rect x="759.5" class="s1"/></g>
<g transform="translate(0,737.0)"><rect x="707.5" class="br"/><rect x="724.5" class="w6"/><rect x="742" class="r2"/><rect x="759.5" class="s2"/></g>
<g transform="translate(0,747.5)"><rect x="707.5" class="br"/><rect x="724.5" class="w6"/><rect x="742" class="r2"/><rect x="759.5" class="s3"/></g>
<g transform="translate(0,758.0)"><rect x="724.5" class="w6"/><rect x="742" class="r4"/><rect x="759.5" class="s5"/></g>
</g>

<!-- ===== Panel c ===== -->
<g id="panel-c-title"><text class="p" x="1" y="644">c</text><text class="t" x="29" y="648">Klebsiella pneumoniae</text></g>
<g id="connectors-c" class="tr">
<path class="k" d="M0,751 H78 M78,670 V832 M78,832 H156 M156,788 V875 M156,875 H177 M177,835 V917 M177,917 H195 M195,882 V951 M195,882 H239 M239,868 V896"/>
<path stroke="#5b9cef" d="M78,670 H156 M156,652 V760 M156,673 H161 M156,684 H166 M156,695 H164 M156,727 H184 M156,738 H164 M156,749 H164 M156,760 H163"/>
<path stroke="#f27c72" d="M156,788 H221 M221,777 V801 M221,777 H303 M303,771 V783 H306 M221,801 H296 M296,793 V815"/>
<path stroke="#37bf6e" d="M177,835 H189 M189,825 V843 M189,825 H322 M189,843 H213 M213,836 V852 M213,836 H349 M213,852 H333 M333,847 V857 M239,868 H339"/>
<path stroke="#c2a632" d="M239,896 H353 M353,878 V922 M353,890 H362"/>
<path stroke="#26c0d2" d="M195,951 H348 M348,933 V1004"/>
</g>
<g id="clade-labels-c">
<text class="cl" x="81" y="666">5</text><text class="cl" x="162" y="785">1</text><text class="cl" x="211" y="867">3</text><text class="cl" x="239" y="908">2</text><text class="cl" x="203" y="947">4</text>
<text class="bm" x="183" y="833">33</text><text class="bm" x="195" y="852">72</text><text class="bm" x="289" y="817">56</text>
</g>
<g id="bootstrap-c" class="be">
<text x="153" y="676">78</text><text x="153" y="697">33</text><text x="153" y="716.5">56</text><text x="153" y="721">36</text><text x="153" y="741">48</text><text x="153" y="763">53</text>
<text x="351" y="892">76</text><text x="350" y="915">64</text><text x="350" y="923">61</text>
</g>
<g id="scale-c"><text class="sc" x="5" y="847">0.001 nucleotide substitutions per site</text>
<path d="M5,855 H56 M5,853 V857 M56,853 V857" stroke="#222" stroke-width="1"/></g>
<g id="st-legend-c" class="sw">
<text x="30" y="891" style="font-size:12px">ST</text>
<rect x="4" y="898" class="lp"/><rect x="4" y="919" class="mg"/><rect x="4" y="939" class="dk"/><rect x="4" y="960" class="pe"/>
<rect x="77" y="898" class="ol"/><rect x="77" y="919" class="tl"/><rect x="77" y="939" class="rd"/><rect x="77" y="960" class="br"/>
<text class="lg" x="30" y="913">14</text><text class="lg" x="30" y="936">147</text><text class="lg" x="30" y="956">231</text><text class="lg" x="30" y="975">337</text>
<text class="lg" x="102" y="913">391</text><text class="lg" x="102" y="935">410</text><text class="lg" x="102" y="954">584</text><text class="lg" x="102" y="975">617</text>
</g>
<g id="labels-c"><text class="ld" y="654.4"><tspan x="387">KP_158</tspan><tspan x="387" dy="10.78">KP_063</tspan><tspan x="387" dy="10.78">KP_328</tspan><tspan x="387" dy="10.78">KP_346</tspan><tspan x="387" dy="10.78">KP_343</tspan><tspan x="387" dy="10.78">KP_121</tspan><tspan x="387" dy="10.78">KP_123</tspan><tspan x="387" dy="10.78">KP_301</tspan><tspan x="387" dy="10.78">KP_307</tspan><tspan x="387" dy="10.78">KP_317</tspan><tspan x="387" dy="10.78">KP_310</tspan><tspan x="387" dy="10.78">KP_046</tspan><tspan x="387" dy="10.78">KP_030</tspan><tspan x="387" dy="10.78">KP_135</tspan><tspan x="387" dy="10.78">KP_136</tspan><tspan x="387" dy="10.78">KP_195</tspan><tspan x="387" dy="10.78">KP_089</tspan><tspan x="387" dy="10.78">KP_320</tspan><tspan x="387" dy="10.78">KP_184</tspan><tspan x="387" dy="10.78">KP_280</tspan><tspan x="387" dy="10.78">KP_160</tspan><tspan x="387" dy="10.78">KP_008</tspan><tspan x="387" dy="10.78">KP_017</tspan><tspan x="387" dy="10.78">KP_144</tspan><tspan x="387" dy="10.78">KP_084</tspan><tspan x="387" dy="10.78">KP_208</tspan><tspan x="387" dy="10.78">KP_109</tspan><tspan x="387" dy="10.78">KP_093</tspan><tspan x="387" dy="10.78">KP_116</tspan><tspan x="387" dy="10.78">KP_241</tspan><tspan x="387" dy="10.78">KP_044</tspan><tspan x="387" dy="10.78">KP_215</tspan><tspan x="387" dy="10.78">KP_040</tspan></text></g>
<g id="heatmap-c" class="hc">
<g transform="translate(0,646.6)"><rect x="409" class="w2"/><rect x="427" class="r3"/><rect x="445.5" class="s2"/></g>
<g transform="translate(0,657.4)"><rect x="390.5" class="mg"/><rect x="409" class="w6"/><rect x="427" class="r1"/><rect x="445.5" class="s5"/></g>
<g transform="translate(0,668.2)"><rect x="390.5" class="mg"/><rect x="409" class="w10"/><rect x="427" class="r4"/><rect x="445.5" class="s6"/></g>
<g transform="translate(0,678.9)"><rect x="409" class="w12"/><rect x="427" class="r4"/><rect x="445.5" class="s5"/></g>
<g transform="translate(0,689.7)"><rect x="390.5" class="mg"/><rect x="409" class="w12"/><rect x="427" class="r4"/><rect x="445.5" class="s6"/></g>
<g transform="translate(0,700.5)"><rect x="390.5" class="mg"/><rect x="409" class="w8"/><rect x="427" class="r2"/><rect x="445.5" class="s2"/></g>
<g transform="translate(0,711.3)"><rect x="390.5" class="mg"/><rect x="409" class="w8"/><rect x="427" class="r2"/><rect x="445.5" class="s3"/></g>
<g transform="translate(0,722.1)"><rect x="409" class="w8"/><rect x="427" class="r4"/><rect x="445.5" class="s1"/></g>
<g transform="translate(0,732.8)"><rect x="409" class="w8"/><rect x="427" class="r4"/><rect x="445.5" class="s2"/></g>
<g transform="translate(0,743.6)"><rect x="390.5" class="mg"/><rect x="409" class="w8"/><rect x="427" class="r4"/><rect x="445.5" class="s5"/></g>
<g transform="translate(0,754.4)"><rect x="409" class="w8"/><rect x="427" class="r4"/><rect x="445.5" class="s3"/></g>
<g transform="translate(0,765.2)"><rect x="409" class="w2"/><rect x="427" class="r1"/><rect x="445.5" class="s4"/></g>
<g transform="translate(0,776.0)"><rect x="409" class="w0"/><rect x="427" class="r1"/><rect x="445.5" class="s4"/></g>
<g transform="translate(0,786.7)"><rect x="390.5" class="br"/><rect x="409" class="w10"/><rect x="427" class="r2"/><rect x="445.5" class="s4"/></g>
<g transform="translate(0,797.5)"><rect x="390.5" class="br"/><rect x="409" class="w10"/><rect x="427" class="r2"/><rect x="445.5" class="s5"/></g>
<g transform="translate(0,808.3)"><rect x="390.5" class="br"/><rect x="409" class="w10"/><rect x="427" class="r3"/><rect x="445.5" class="s3"/></g>
<g transform="translate(0,819.1)"><rect x="390.5" class="tl"/><rect x="409" class="w2"/><rect x="427" class="r2"/><rect x="445.5" class="s1"/></g>
<g transform="translate(0,829.9)"><rect x="390.5" class="rd"/><rect x="409" class="w10"/><rect x="427" class="r4"/><rect x="445.5" class="s1"/></g>
<g transform="translate(0,840.6)"><rect x="390.5" class="ol"/><rect x="409" class="w6"/><rect x="427" class="r3"/><rect x="445.5" class="s5"/></g>
<g transform="translate(0,851.4)"><rect x="390.5" class="ol"/><rect x="409" class="w6"/><rect x="427" class="r4"/><rect x="445.5" class="s1"/></g>
<g transform="translate(0,862.2)"><rect x="390.5" class="lp"/><rect x="409" class="w2"/><rect x="427" class="r3"/><rect x="445.5" class="s3"/></g>
<g transform="translate(0,873.0)"><rect x="390.5" class="pe"/><rect x="409" class="w0"/><rect x="427" class="r4"/><rect x="445.5" class="s1"/></g>
<g transform="translate(0,883.8)"><rect x="390.5" class="pe"/><rect x="409" class="w0"/><rect x="427" class="r4"/><rect x="445.5" class="s2"/></g>
<g transform="translate(0,894.5)"><rect x="390.5" class="pe"/><rect x="409" class="w0"/><rect x="427" class="r3"/><rect x="445.5" class="s1"/></g>
<g transform="translate(0,905.3)"><rect x="390.5" class="pe"/><rect x="409" class="w0"/><rect x="427" class="r2"/><rect x="445.5" class="s4"/></g>
<g transform="translate(0,916.1)"><rect x="390.5" class="pe"/><rect x="409" class="w0"/><rect x="427" class="r4"/><rect x="445.5" class="s3"/></g>
<g transform="translate(0,926.9)"><rect x="390.5" class="dk"/><rect x="409" class="w4"/><rect x="427" class="r2"/><rect x="445.5" class="s5"/></g>
<g transform="translate(0,937.7)"><rect x="390.5" class="dk"/><rect x="409" class="w2"/><rect x="427" class="r2"/><rect x="445.5" class="s2"/></g>
<g transform="translate(0,948.4)"><rect x="390.5" class="dk"/><rect x="409" class="w6"/><rect x="427" class="r2"/><rect x="445.5" class="s4"/></g>
<g transform="translate(0,959.2)"><rect x="390.5" class="dk"/><rect x="409" class="w2"/><rect x="427" class="r4"/><rect x="445.5" class="s3"/></g>
<g transform="translate(0,970.0)"><rect x="390.5" class="dk"/><rect x="409" class="w2"/><rect x="427" class="r1"/><rect x="445.5" class="s3"/></g>
<g transform="translate(0,980.8)"><rect x="390.5" class="dk"/><rect x="409" class="w0"/><rect x="427" class="r4"/><rect x="445.5" class="s6"/></g>
<g transform="translate(0,991.6)"><rect x="390.5" class="dk"/><rect x="409" class="w2"/><rect x="427" class="r1"/><rect x="445.5" class="s2"/></g>
</g>

<!-- ===== Legend ===== -->
<g id="legend">
<rect x="482" y="793" width="288" height="209" fill="#fff" stroke="#222" stroke-width="1.2"/>
<text class="lg" x="495" y="807">Week</text><text class="lg" x="563" y="807">Room</text><text class="lg" x="672" y="807">Surface</text>
<g class="sw">
<rect x="490" y="811" class="w0"/><rect x="490" y="832" class="w2"/><rect x="490" y="853" class="w4"/><rect x="490" y="874" class="w6"/><rect x="490" y="895" class="w8"/><rect x="490" y="916" class="w10"/><rect x="490" y="937" class="w12"/><rect x="490" y="958" class="w26"/><rect x="490" y="979" class="w52"/>
<rect x="548" y="811" class="r1"/><rect x="548" y="832" class="r2"/><rect x="548" y="853" class="r3"/><rect x="548" y="874" class="r4"/><rect x="548" y="895" class="r5"/>
<rect x="620" y="811" class="s1"/><rect x="620" y="832" class="s2"/><rect x="620" y="853" class="s3"/><rect x="620" y="874" class="s4"/><rect x="620" y="895" class="s5"/>
</g>
<text class="lg" x="516" y="826">0</text><text class="lg" x="516" y="847">2</text><text class="lg" x="516" y="868">4</text><text class="lg" x="516" y="889">6</text><text class="lg" x="516" y="910">8</text><text class="lg" x="516" y="931">10</text><text class="lg" x="516" y="952">12</text><text class="lg" x="516" y="973">26</text><text class="lg" x="516" y="994">52</text>
<text class="lg" x="575" y="826">Pak-1</text><text class="lg" x="575" y="847">Pak-2</text><text class="lg" x="575" y="868">Pak-3</text><text class="lg" x="575" y="889">Pak-4</text><text class="lg" x="575" y="910">US-1</text>
<text class="lg" x="646" y="826">Nursing call button</text><text class="lg" x="646" y="847">Bedside rail</text><text class="lg" x="646" y="868">Bedside light switch</text><text class="lg" x="646" y="889">Room sink</text><text class="lg" x="646" y="910">Alcohol foam dispenser</text>
</g>
</svg>
